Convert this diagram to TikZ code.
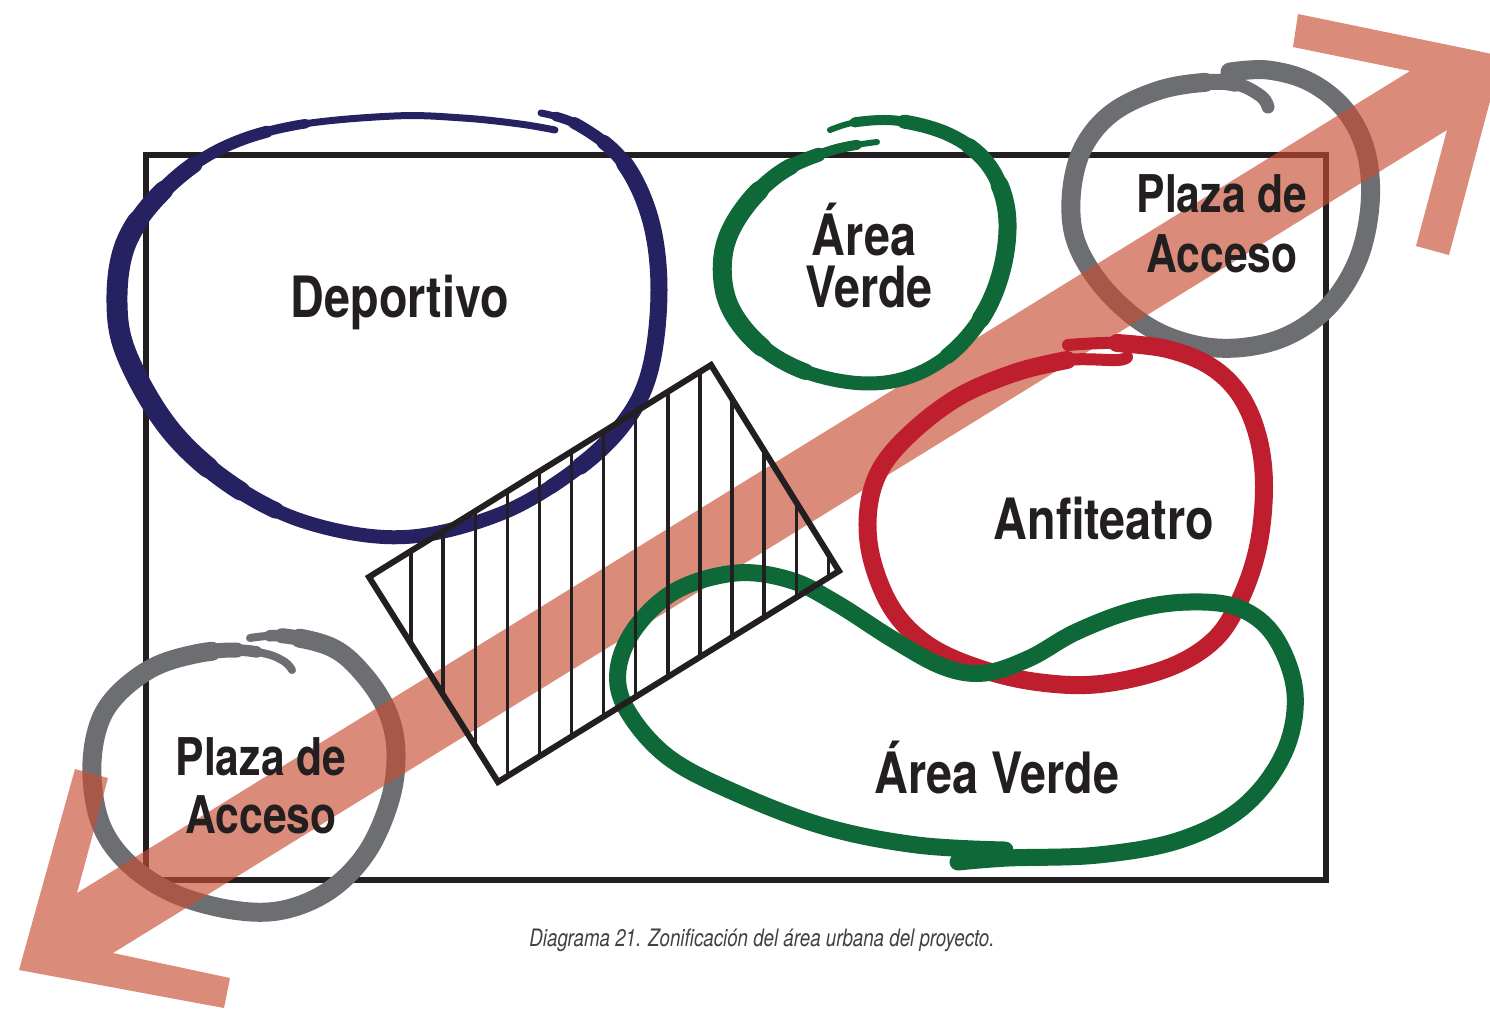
\documentclass[tikz,border=0pt]{standalone}
\usepackage{fontspec}
\newfontfamily\labfont[FakeStretch=0.82]{TeX Gyre Heros}
\newfontfamily\capfont[FakeStretch=0.78]{TeX Gyre Heros}
\definecolor{cNavy}{RGB}{38,34,98}
\definecolor{cLeaf}{RGB}{14,104,55}
\definecolor{cRuby}{RGB}{190,30,45}
\definecolor{cStone}{RGB}{109,110,113}
\definecolor{cInk}{RGB}{35,31,32}
\definecolor{cSalmon}{RGB}{201,77,52}
\definecolor{cCap}{RGB}{65,64,66}
\begin{document}
\begin{tikzpicture}[x=0.5pt,y=-0.5pt,
  stroke/.style={line cap=round,line join=round},
  part/.code 2 args={\pgfmathsetmacro\pL{(#2-#1)/2}\pgfmathsetmacro\pP{3000+\pL-#1/2}\tikzset{dash pattern=on \pL pt off 3000pt,dash phase=\pP pt}},
  lbl/.style={font=\labfont\bfseries\fontsize{28.5}{30}\selectfont,text=cInk,inner sep=0pt,anchor=base},
  lblsm/.style={font=\labfont\bfseries\fontsize{26}{30}\selectfont,text=cInk,inner sep=0pt,anchor=base},
  frame/.style={draw=cInk,line width=3pt},
  hatchout/.style={draw=cInk,line width=3pt,line join=miter},
  hatchline/.style={draw=cInk,line width=1.7pt},
  arrowband/.style={fill=cSalmon,fill opacity=0.65}]
\useasboundingbox (0,0) rectangle (1490,1009);
\fill[white] (0,0) rectangle (1490,1009);
\clip (0,0) rectangle (1490,1009);

% loop paths
\def\grayTR{(1230,72) (1268,70) (1310,82) (1345,110) (1366,152) (1370,205) (1357,262) (1325,310) (1277,340) (1217,348) (1158,332) (1110,295) (1078,247) (1071,200) (1082,150) (1112,113) (1160,90) (1210,82) (1240,85) (1262,97) (1268,107)}
\def\grayBL{(250,638) (285,636) (333,648) (365,676) (388,713) (396,753) (390,800) (367,852) (330,890) (283,910) (233,910) (175,894) (130,865) (102,827) (92,777) (97,730) (115,697) (152,668) (195,654) (235,650) (267,654) (285,662) (292,670)}
\def\blueloop{(541,113) (578,125) (622,160) (650,218) (659,290) (650,370) (624,423) (575,470) (500,514) (405,537) (312,524) (236,488) (172,432) (128,358) (117,303) (126,243) (162,192) (218,150) (292,126) (394,116) (463,118) (520,124) (555,130)}
\def\greentop{(877,142) (833,150) (783,171) (745,207) (724,250) (727,300) (756,342) (801,370) (857,383) (906,378) (950,354) (985,312) (1004,260) (1006,207) (987,163) (950,135) (900,121) (857,122) (830,130)}

% frame
\draw[frame] (146,155) rectangle (1326,880);

% gray loops (under the arrow)
\draw[stroke,draw=cStone,line width=6.5pt] plot[smooth,tension=0.6] coordinates {\grayTR};
\draw[stroke,draw=cStone,line width=8pt,part={0}{920}] plot[smooth,tension=0.6] coordinates {\grayTR};
\draw[stroke,draw=cStone,line width=9.5pt,part={0}{890}] plot[smooth,tension=0.6] coordinates {\grayTR};
\draw[stroke,draw=cStone,line width=4pt] plot[smooth,tension=0.6] coordinates {\grayBL};
\draw[stroke,draw=cStone,line width=5.75pt,part={20}{925}] plot[smooth,tension=0.6] coordinates {\grayBL};
\draw[stroke,draw=cStone,line width=7.5pt,part={32}{905}] plot[smooth,tension=0.6] coordinates {\grayBL};
\draw[stroke,draw=cStone,line width=9.5pt,part={50}{880}] plot[smooth,tension=0.6] coordinates {\grayBL};

% arrow
\fill[arrowband] (1298,14) -- (1502,56) -- (1449,255) -- (1416,246) -- (1447,130) -- (113,953) -- (230,978) -- (224,1008) -- (19,970) -- (75,769) -- (108,778) -- (77,893) -- (1410,71) -- (1293,47) -- cycle;

% blue loop
\draw[stroke,draw=cNavy,line width=3.5pt] plot[smooth,tension=0.6] coordinates {\blueloop};
\draw[stroke,draw=cNavy,line width=4.75pt,part={15}{1320}] plot[smooth,tension=0.6] coordinates {\blueloop};
\draw[stroke,draw=cNavy,line width=6pt,part={35}{1280}] plot[smooth,tension=0.6] coordinates {\blueloop};
\draw[stroke,draw=cNavy,line width=7pt,part={470}{830}] plot[smooth,tension=0.6] coordinates {\blueloop};
\draw[stroke,draw=cNavy,line width=7.25pt,part={70}{470}] plot[smooth,tension=0.6] coordinates {\blueloop};
\draw[stroke,draw=cNavy,line width=8.5pt,part={100}{435}] plot[smooth,tension=0.6] coordinates {\blueloop};
\draw[stroke,draw=cNavy,line width=8.25pt,part={760}{1200}] plot[smooth,tension=0.6] coordinates {\blueloop};
\draw[stroke,draw=cNavy,line width=9.5pt,part={800}{1160}] plot[smooth,tension=0.6] coordinates {\blueloop};
\draw[stroke,draw=cNavy,line width=10.5pt,part={840}{1120}] plot[smooth,tension=0.6] coordinates {\blueloop};

% red loop
\draw[stroke,draw=cRuby,line width=6pt] plot[smooth,tension=0.6] coordinates {(1068,345) (1117,343) (1167,349) (1210,366) (1240,395) (1258,437) (1264,487) (1258,547) (1240,600) (1214,640) (1168,668) (1100,684) (1037,682) (978,668) (928,645) (893,610) (872,560) (868,513) (880,470) (912,432) (960,396) (1017,372) (1067,360) (1117,360) (1127,357)};
\draw[stroke,draw=cRuby,line width=9pt] plot[smooth,tension=0.6] coordinates {(1117,343) (1167,349) (1210,366) (1240,395) (1258,437) (1264,487) (1258,547) (1240,600) (1214,640) (1168,668) (1100,684) (1037,682) (978,668) (928,645) (893,610) (872,560) (868,513) (880,470) (912,432) (960,396) (1017,372) (1067,360)};

% green loop top
\draw[stroke,draw=cLeaf,line width=3pt] plot[smooth,tension=0.6] coordinates {\greentop};
\draw[stroke,draw=cLeaf,line width=5pt,part={20}{870}] plot[smooth,tension=0.6] coordinates {\greentop};
\draw[stroke,draw=cLeaf,line width=7pt,part={60}{820}] plot[smooth,tension=0.6] coordinates {\greentop};
\draw[stroke,draw=cLeaf,line width=8.25pt,part={90}{360}] plot[smooth,tension=0.6] coordinates {\greentop};
\draw[stroke,draw=cLeaf,line width=9.5pt,part={130}{310}] plot[smooth,tension=0.6] coordinates {\greentop};
\draw[stroke,draw=cLeaf,line width=8pt,part={510}{750}] plot[smooth,tension=0.6] coordinates {\greentop};
\draw[stroke,draw=cLeaf,line width=9pt,part={560}{700}] plot[smooth,tension=0.6] coordinates {\greentop};

% green loop bottom
\draw[stroke,draw=cLeaf,line width=8.5pt] plot[smooth,tension=0.6] coordinates {(1005,850) (917,845) (826,827) (736,793) (668,757) (627,710) (618,670) (636,627) (677,590) (736,573) (790,580) (836,603) (894,640) (944,667) (985,673) (1030,658) (1076,632) (1134,610) (1189,602) (1239,608) (1275,637) (1295,693) (1284,753) (1243,807) (1180,840) (1098,855) (1008,858) (958,862)};

% hatched shape
\coordinate (hA) at (369,577);
\coordinate (hB) at (711,365);
\coordinate (hC) at (839,571);
\coordinate (hD) at (498,782);
\begin{scope}
  \clip (hA) -- (hB) -- (hC) -- (hD) -- cycle;
  \foreach \k in {0,...,13}{\draw[hatchline] ({411+32.1*\k},300) -- ({411+32.1*\k},800);}
\end{scope}
\draw[hatchout] (hA) -- (hB) -- (hC) -- (hD) -- cycle;

% labels
\node[lbl] (deportivo) at (400,317) {Deportivo};
\node[lbl] (av1a) at (864,255) {Área};
\node[lbl] (av1b) at (869,307) {Verde};
\node[lblsm] (pa1a) at (1222,212) {Plaza de};
\node[lblsm] (pa1b) at (1222,272) {Acceso};
\node[lblsm] (pa2a) at (261,775) {Plaza de};
\node[lblsm] (pa2b) at (261,833) {Acceso};
\node[lbl] (anfi) at (1104,539) {Anfiteatro};
\node[lbl] (av2) at (997,793) {Área Verde};
\node[font=\capfont\itshape\fontsize{12}{14}\selectfont,text=cCap,anchor=base,inner sep=0pt] (caption) at (762,946) {Diagrama 21. Zonificación del área urbana del proyecto.};
\end{tikzpicture}
\end{document}
